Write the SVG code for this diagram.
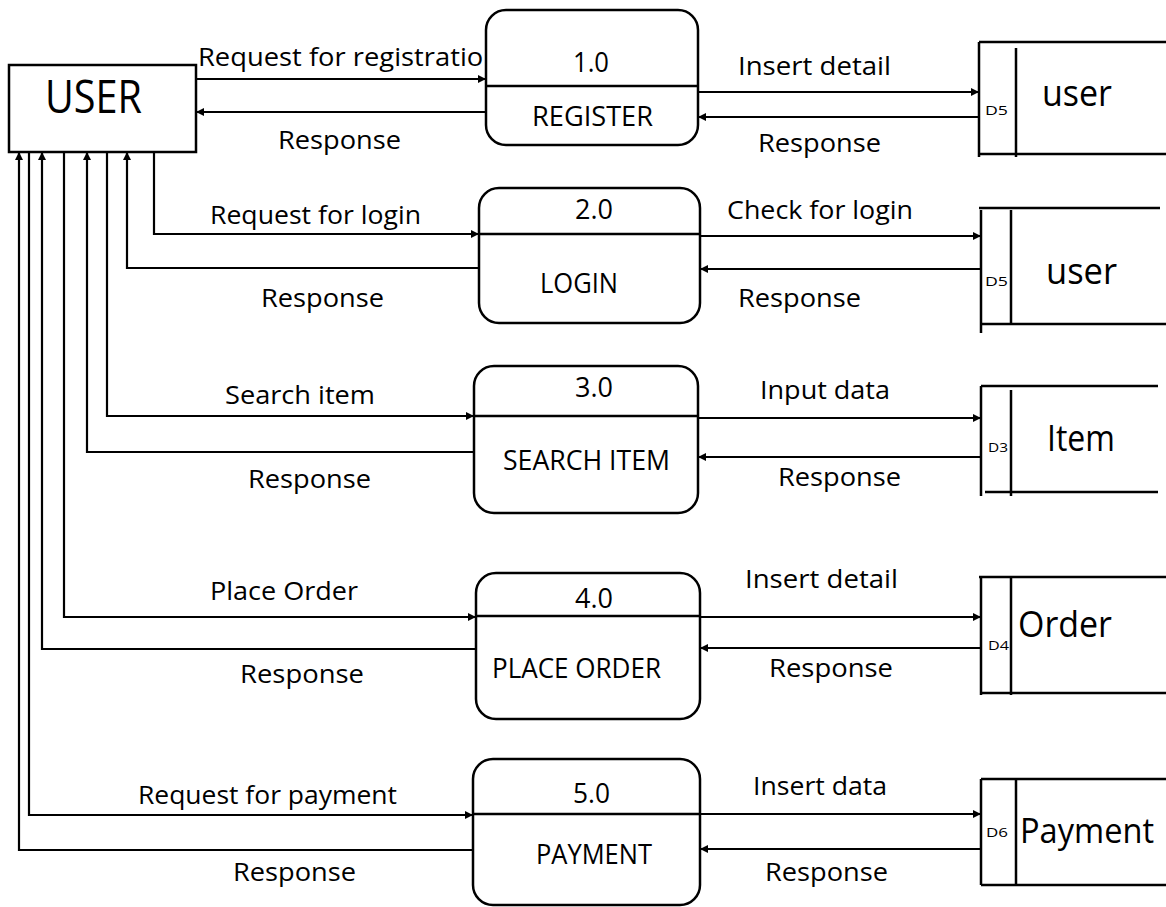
<svg xmlns="http://www.w3.org/2000/svg" width="1166" height="907" viewBox="0 0 1166 907">
  <style>
    .bg { fill: #ffffff; }
    .box { fill: #ffffff; stroke: #000; stroke-width: 2.5; }
    .ln { fill: none; stroke: #000; stroke-width: 2.5; }
    .flow { fill: none; stroke: #000; stroke-width: 2.2; }
    text { font-family: "Open Sans", "Liberation Sans", sans-serif; fill: #000; }
    .lbl { font-size: 26px; }
    .proc { font-size: 27px; }
    .store { font-size: 37px; }
    .tag { font-size: 12px; }
    .ent { font-size: 46px; }
  </style>
  <defs>
    <marker id="arrow" viewBox="0 0 10 10" refX="10" refY="5" markerWidth="9" markerHeight="8" markerUnits="userSpaceOnUse" orient="auto">
      <path d="M0,0 L10,5 L0,10 Z" fill="#000"/>
    </marker>
  </defs>
  <rect class="bg" x="0" y="0" width="1166" height="907"/>

  <!-- data flows -->
  <g id="connectors">
    <!-- 1.0 register -->
    <path class="flow" d="M196,79 H486" marker-end="url(#arrow)"/>
    <path class="flow" d="M486,112 H196" marker-end="url(#arrow)"/>
    <path class="flow" d="M698,92 H979" marker-end="url(#arrow)"/>
    <path class="flow" d="M979,117 H698" marker-end="url(#arrow)"/>
    <!-- 2.0 login -->
    <path class="flow" d="M154,152 V234 H479" marker-end="url(#arrow)"/>
    <path class="flow" d="M479,268 H127 V152" marker-end="url(#arrow)"/>
    <path class="flow" d="M700,236 H981" marker-end="url(#arrow)"/>
    <path class="flow" d="M981,269 H700" marker-end="url(#arrow)"/>
    <!-- 3.0 search item -->
    <path class="flow" d="M107,152 V416 H474" marker-end="url(#arrow)"/>
    <path class="flow" d="M474,452 H87 V152" marker-end="url(#arrow)"/>
    <path class="flow" d="M698,418 H981" marker-end="url(#arrow)"/>
    <path class="flow" d="M981,457 H698" marker-end="url(#arrow)"/>
    <!-- 4.0 place order -->
    <path class="flow" d="M64,152 V617 H476" marker-end="url(#arrow)"/>
    <path class="flow" d="M476,649 H42 V152" marker-end="url(#arrow)"/>
    <path class="flow" d="M700,617 H981" marker-end="url(#arrow)"/>
    <path class="flow" d="M981,648 H700" marker-end="url(#arrow)"/>
    <!-- 5.0 payment -->
    <path class="flow" d="M29,152 V815 H473" marker-end="url(#arrow)"/>
    <path class="flow" d="M473,850 H19 V152" marker-end="url(#arrow)"/>
    <path class="flow" d="M700,814 H981" marker-end="url(#arrow)"/>
    <path class="flow" d="M981,849 H700" marker-end="url(#arrow)"/>

    <!-- flow labels -->
    <text class="lbl" x="198" y="66" textLength="302" lengthAdjust="spacingAndGlyphs">Request for registration</text>
    <text class="lbl" x="278" y="149" textLength="123" lengthAdjust="spacingAndGlyphs">Response</text>
    <text class="lbl" x="738" y="75" textLength="153" lengthAdjust="spacingAndGlyphs">Insert detail</text>
    <text class="lbl" x="758" y="152" textLength="123" lengthAdjust="spacingAndGlyphs">Response</text>

    <text class="lbl" x="210" y="224" textLength="211" lengthAdjust="spacingAndGlyphs">Request for login</text>
    <text class="lbl" x="261" y="307" textLength="123" lengthAdjust="spacingAndGlyphs">Response</text>
    <text class="lbl" x="727" y="219" textLength="186" lengthAdjust="spacingAndGlyphs">Check for login</text>
    <text class="lbl" x="738" y="307" textLength="123" lengthAdjust="spacingAndGlyphs">Response</text>

    <text class="lbl" x="225" y="404" textLength="150" lengthAdjust="spacingAndGlyphs">Search item</text>
    <text class="lbl" x="248" y="488" textLength="123" lengthAdjust="spacingAndGlyphs">Response</text>
    <text class="lbl" x="760" y="399" textLength="130" lengthAdjust="spacingAndGlyphs">Input data</text>
    <text class="lbl" x="778" y="486" textLength="123" lengthAdjust="spacingAndGlyphs">Response</text>

    <text class="lbl" x="210" y="600" textLength="148" lengthAdjust="spacingAndGlyphs">Place Order</text>
    <text class="lbl" x="240" y="683" textLength="124" lengthAdjust="spacingAndGlyphs">Response</text>
    <text class="lbl" x="745" y="588" textLength="153" lengthAdjust="spacingAndGlyphs">Insert detail</text>
    <text class="lbl" x="769" y="677" textLength="124" lengthAdjust="spacingAndGlyphs">Response</text>

    <text class="lbl" x="138" y="804" textLength="259" lengthAdjust="spacingAndGlyphs">Request for payment</text>
    <text class="lbl" x="233" y="881" textLength="123" lengthAdjust="spacingAndGlyphs">Response</text>
    <text class="lbl" x="753" y="795" textLength="134" lengthAdjust="spacingAndGlyphs">Insert data</text>
    <text class="lbl" x="765" y="881" textLength="123" lengthAdjust="spacingAndGlyphs">Response</text>
  </g>

  <!-- external entity -->
  <g id="user">
    <rect class="box" x="9" y="65" width="187" height="87"/>
    <text class="ent" x="45" y="113" textLength="97" lengthAdjust="spacingAndGlyphs">USER</text>
  </g>

  <!-- processes -->
  <g id="p1">
    <rect class="box" x="486" y="10" width="212" height="135" rx="20"/>
    <line class="ln" x1="486" y1="86" x2="698" y2="86"/>
    <text class="proc" x="573" y="72" textLength="36" lengthAdjust="spacingAndGlyphs">1.0</text>
    <text class="proc" x="532" y="126" textLength="121" lengthAdjust="spacingAndGlyphs">REGISTER</text>
  </g>
  <g id="p2">
    <rect class="box" x="479" y="188" width="221" height="135" rx="20"/>
    <line class="ln" x1="479" y1="234" x2="700" y2="234"/>
    <text class="proc" x="575" y="219" textLength="38" lengthAdjust="spacingAndGlyphs">2.0</text>
    <text class="proc" x="540" y="293" textLength="78" lengthAdjust="spacingAndGlyphs">LOGIN</text>
  </g>
  <g id="p3">
    <rect class="box" x="474" y="366" width="224" height="147" rx="20"/>
    <line class="ln" x1="474" y1="416" x2="698" y2="416"/>
    <text class="proc" x="575" y="397" textLength="38" lengthAdjust="spacingAndGlyphs">3.0</text>
    <text class="proc" x="503" y="470" textLength="167" lengthAdjust="spacingAndGlyphs">SEARCH ITEM</text>
  </g>
  <g id="p4">
    <rect class="box" x="476" y="573" width="224" height="146" rx="20"/>
    <line class="ln" x1="476" y1="616" x2="700" y2="616"/>
    <text class="proc" x="575" y="608" textLength="38" lengthAdjust="spacingAndGlyphs">4.0</text>
    <text class="proc" x="492" y="678" textLength="169" lengthAdjust="spacingAndGlyphs">PLACE ORDER</text>
  </g>
  <g id="p5">
    <rect class="box" x="473" y="759" width="227" height="146" rx="20"/>
    <line class="ln" x1="473" y1="814" x2="700" y2="814"/>
    <text class="proc" x="573" y="803" textLength="37" lengthAdjust="spacingAndGlyphs">5.0</text>
    <text class="proc" x="536" y="864" textLength="116" lengthAdjust="spacingAndGlyphs">PAYMENT</text>
  </g>

  <!-- data stores (open on the right) -->
  <g id="ds1">
    <path class="ln" d="M979,42 H1166 M979,154 H1166 M979,42 V157 M1016,48 V157"/>
    <text class="tag" x="985" y="115" textLength="23" lengthAdjust="spacingAndGlyphs">D5</text>
    <text class="store" x="1042" y="106" textLength="70" lengthAdjust="spacingAndGlyphs">user</text>
  </g>
  <g id="ds2">
    <path class="ln" d="M979,208 H1160 M981,324 H1166 M981,210 V333 M1011,210 V324"/>
    <text class="tag" x="985" y="286" textLength="23" lengthAdjust="spacingAndGlyphs">D5</text>
    <text class="store" x="1046" y="284" textLength="71" lengthAdjust="spacingAndGlyphs">user</text>
  </g>
  <g id="ds3">
    <path class="ln" d="M981,386 H1158 M985,492 H1158 M981,386 V496 M1011,390 V496"/>
    <text class="tag" x="988" y="452" textLength="20" lengthAdjust="spacingAndGlyphs">D3</text>
    <text class="store" x="1047" y="451" textLength="68" lengthAdjust="spacingAndGlyphs">Item</text>
  </g>
  <g id="ds4">
    <path class="ln" d="M979,577 H1166 M981,693 H1166 M981,577 V695 M1011,577 V695"/>
    <text class="tag" x="988" y="650" textLength="21" lengthAdjust="spacingAndGlyphs">D4</text>
    <text class="store" x="1018" y="637" textLength="94" lengthAdjust="spacingAndGlyphs">Order</text>
  </g>
  <g id="ds5">
    <path class="ln" d="M981,779 H1166 M981,885 H1166 M981,779 V885 M1016,779 V885"/>
    <text class="tag" x="986" y="837" textLength="22" lengthAdjust="spacingAndGlyphs">D6</text>
    <text transform="translate(1020,843) scale(1,1.2)" x="0" y="0" font-size="29" textLength="134" lengthAdjust="spacingAndGlyphs">Payment</text>
  </g>
</svg>
